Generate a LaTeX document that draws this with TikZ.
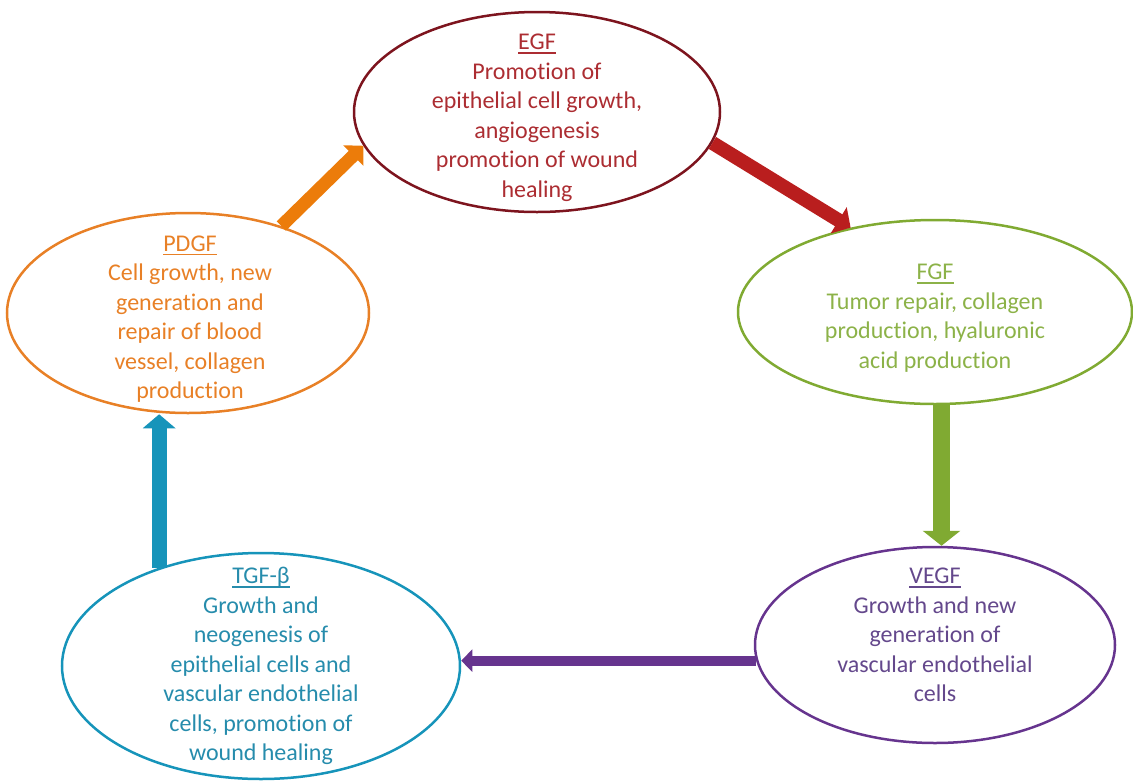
\documentclass[tikz,border=0pt]{standalone}
\usepackage{fontspec}
\setmainfont{Carlito}[Ligatures=NoCommon]
\usetikzlibrary{shapes.geometric,arrows.meta}

\definecolor{egfline}{RGB}{125,20,30}
\definecolor{egftext}{RGB}{172,45,50}
\definecolor{egfarrow}{RGB}{185,30,30}
\definecolor{pdgfcol}{RGB}{232,128,38}
\definecolor{pdgfarrow}{RGB}{236,124,10}
\definecolor{fgfcol}{RGB}{128,170,50}
\definecolor{fgftext}{RGB}{140,178,72}
\definecolor{vegfcol}{RGB}{102,52,142}
\definecolor{vegftext}{RGB}{100,72,140}
\definecolor{tgfcol}{RGB}{22,148,186}
\definecolor{tgftext}{RGB}{38,140,172}

\newcommand{\gfname}[1]{\setbox0\hbox{#1}\rlap{\rule[-4pt]{\wd0}{1.6pt}}\box0}

\begin{document}
\begin{tikzpicture}[x=1pt,y=-1pt]
\tikzset{
  gf/.style={ellipse,draw,line width=2.5pt,inner sep=0pt},
  gftext/.style={align=center,font=\fontsize{24}{29.5}\selectfont},
  flow/.style={line width=#1},
}
\useasboundingbox (0,0) rectangle (1133,780);

% the five growth factors
\node[gf,draw=egfline,minimum width=366pt,minimum height=200pt] (egf) at (537,112) {};
\node[gf,draw=fgfcol,minimum width=394pt,minimum height=184pt] (fgf) at (935,312) {};
\node[gf,draw=vegfcol,minimum width=360pt,minimum height=196pt] (vegf) at (935,645) {};
\node[gf,draw=tgfcol,minimum width=398pt,minimum height=226pt] (tgf) at (261,666) {};
\node[gf,draw=pdgfcol,minimum width=362pt,minimum height=200pt] (pdgf) at (188,313) {};

\node[gftext,text=egftext,yshift=-6pt] (egftxt) at (egf) {\gfname{EGF}\\Promotion of\\epithelial cell growth,\\angiogenesis\\promotion of wound\\healing};
\node[gftext,text=fgftext,yshift=-6pt] (fgftxt) at (fgf) {\gfname{FGF}\\Tumor repair, collagen\\production, hyaluronic\\acid production};
\node[gftext,text=vegftext,yshift=10pt] (vegftxt) at (vegf) {\gfname{VEGF}\\Growth and new\\generation of\\vascular endothelial\\cells};
\node[gftext,text=tgftext] (tgftxt) at (tgf) {\gfname{TGF-β}\\Growth and\\neogenesis of\\epithelial cells and\\vascular endothelial\\cells, promotion of\\wound healing};
\node[gftext,text=pdgfcol,xshift=2pt,yshift=-6pt] (pdgftxt) at (pdgf) {\gfname{PDGF}\\Cell growth, new\\generation and\\repair of blood\\vessel, collagen\\production};

% arrows round the cycle
\draw[flow=13pt,draw=pdgfarrow,-{Triangle[width=28pt,length=14pt]}] (pdgf.43) -- (egf.191);
\draw[flow=14pt,draw=egfarrow,-{Triangle[width=30pt,length=14pt]}] (egf.-10) -- (fgf.135);
\draw[flow=17pt,draw=fgfcol,-{Triangle[width=37pt,length=15pt]}] (fgf.-86) -- (fgf.-86 |- vegf.north);
\draw[flow=10pt,draw=vegfcol,-{Triangle[width=22pt,length=11pt]}] (vegf.185) -- (vegf.185 -| tgf.east);
\draw[flow=15pt,draw=tgfcol,-{Triangle[width=32pt,length=14pt]}] (tgf.136) -- (tgf.136 |- pdgf.south);
\end{tikzpicture}
\end{document}
